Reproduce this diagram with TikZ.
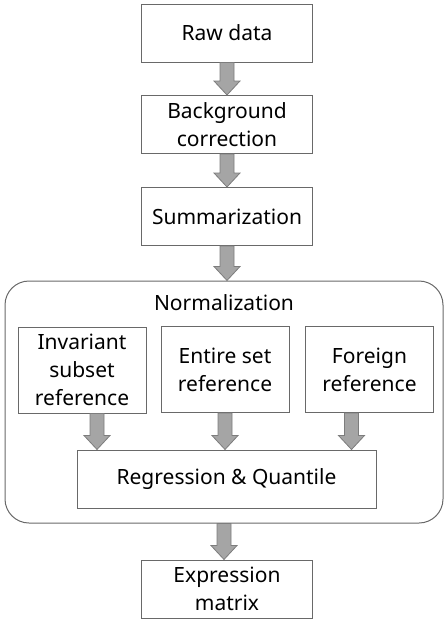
\documentclass[tikz,border=0pt]{standalone}
\usepackage{fontspec}
\setmainfont{Noto Sans}
\usetikzlibrary{calc}
\definecolor{bordo}{RGB}{105,105,105}
\definecolor{frecciagrigia}{RGB}{165,165,165}
\definecolor{bordofreccia}{RGB}{125,125,125}

% freccia piena dal punto #1 fino al lato nord del nodo #2
\newcommand{\freccia}[2]{%
	\draw[fatarrow] let \p1=(#1), \p2=(#2.north) in
		(\x1-7pt,\y1) -- (\x1+7pt,\y1) -- (\x1+7pt,\y2+14pt) -- (\x1+13pt,\y2+14pt)
		-- (\x1,\y2) -- (\x1-13pt,\y2+14pt) -- (\x1-7pt,\y2+14pt) -- cycle;}

\begin{document}
\begin{tikzpicture}[x=1pt, y=-1pt,
			box/.style={draw=bordo, line width=1pt, align=center, inner sep=0pt,
				font=\fontsize{21}{28}\selectfont},
			mainbox/.style={box, minimum width=171pt, minimum height=58pt},
			refbox/.style={box, minimum width=128pt, minimum height=86pt},
			normbox/.style={draw=bordo, line width=1pt, rounded corners=24pt,
				minimum width=438pt, minimum height=242pt},
			fatarrow/.style={fill=frecciagrigia, draw=bordofreccia, line width=0.8pt}]
			
			\useasboundingbox (0,0) rectangle (447,625);
			
			% Colonna principale
			\node[mainbox] (raw) at (227,33) {Raw data};
			\node[mainbox] (bg) at (227,124.5) {Background\\correction};
			\node[mainbox] (summ) at (227,216.5) {Summarization};
			
			% Blocco di normalizzazione
			\node[normbox] (norm) at (224,402) {};
			\node[font=\fontsize{21}{28}\selectfont] (normtitle) at (224,303) {Normalization};
			\node[refbox] (inv) at (82,370) {Invariant\\subset\\reference};
			\node[refbox] (entire) at (225,369.5) {Entire set\\reference};
			\node[refbox] (foreign) at (369.5,369.5) {Foreign\\reference};
			\node[box, minimum width=299pt, minimum height=58pt] (regr) at (226.5,479) {Regression \& Quantile};
			
			\node[mainbox] (expr) at (227,589) {Expression\\matrix};
			
			% --- Frecce ---
			\freccia{raw.south}{bg}
			\freccia{bg.south}{summ}
			\freccia{summ.south}{norm}
			\freccia{$(inv.south)+(15,0)$}{regr}
			\freccia{entire.south}{regr}
			\freccia{$(foreign.south)+(-18,0)$}{regr}
			\freccia{norm.south}{expr}
			
		\end{tikzpicture}
\end{document}
